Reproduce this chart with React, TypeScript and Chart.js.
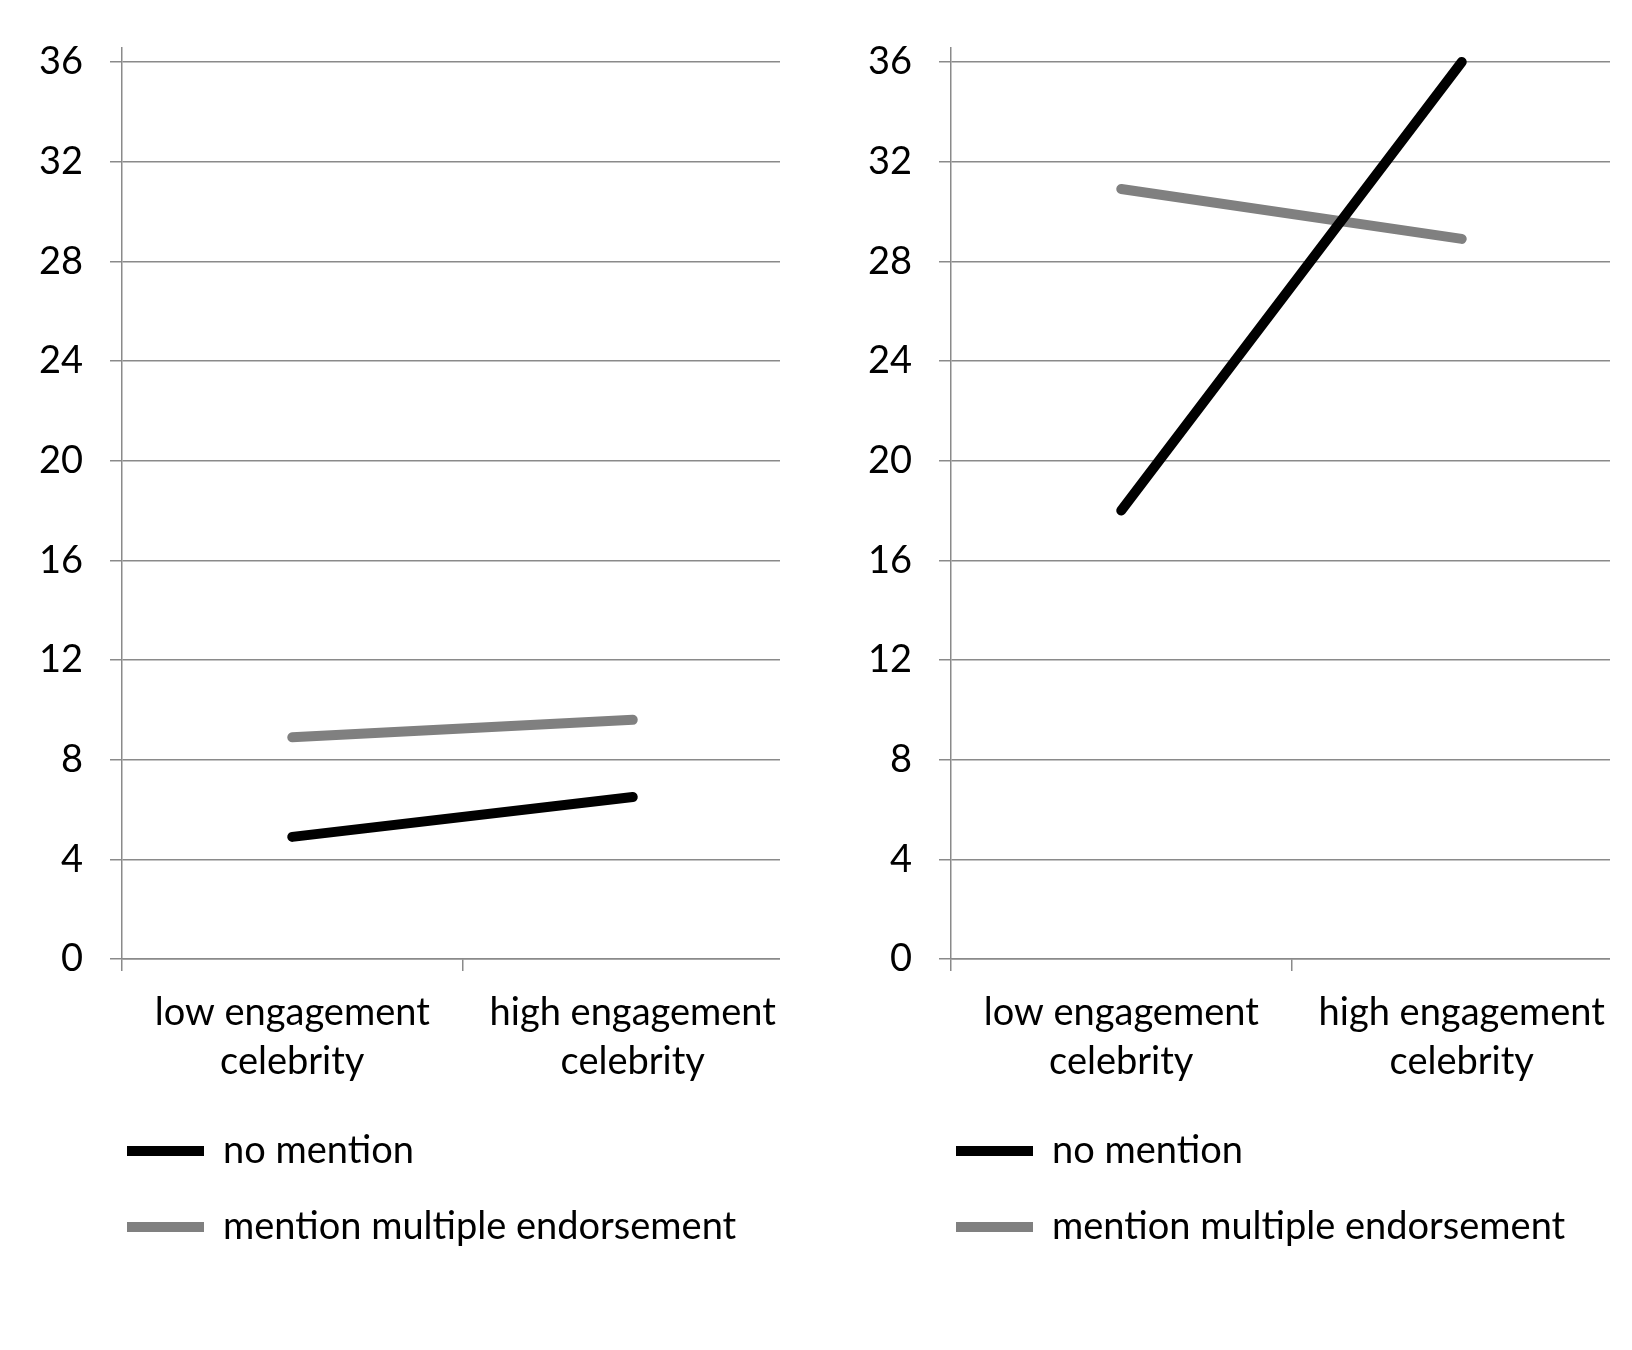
import React, { useEffect, useRef } from 'react';
import { Chart, registerables } from 'chart.js';

Chart.register(...registerables);

// ---- data ----
const categories: string[][] = [
  ['low engagement', 'celebrity'],
  ['high engagement', 'celebrity'],
];
const seriesNames = ['no mention', 'mention multiple endorsement'];
const seriesColors = ['#000000', '#808080'];
const leftNoMention = [4.9, 6.5];
const leftMultiple = [8.9, 9.6];
const rightNoMention = [18, 36];
const rightMultiple = [30.9, 28.9];
const yMin = 0;
const yMax = 36;
const yStep = 4;

// ---- layout ----
const FONT = 'Lato, "Open Sans", sans-serif';
const FONT_SIZE = 38;
const CANVAS_W = 803;
const CANVAS_H = 1350;
const GRID = '#8a8a8a';
const LEGEND_SHIFT = 89;

const legendShift = {
  id: 'legendShift',
  afterLayout(chart: any) {
    if (chart.legend) {
      chart.legend.left += LEGEND_SHIFT;
      chart.legend.right += LEGEND_SHIFT;
    }
  },
};

function Panel({ noMention, multiple }: { noMention: number[]; multiple: number[] }) {
  const ref = useRef<HTMLCanvasElement | null>(null);
  useEffect(() => {
    if (!ref.current) return;
    const mk = (i: number, data: number[]) => ({
      label: seriesNames[i],
      data,
      borderColor: seriesColors[i],
      backgroundColor: seriesColors[i],
      borderWidth: 10,
      borderCapStyle: 'round',
      pointRadius: 0,
      pointHoverRadius: 0,
      tension: 0,
      fill: false,
    });
    const chart = new Chart(ref.current, {
      type: 'line',
      data: {
        labels: categories,
        datasets: [mk(0, noMention), mk(1, multiple)],
      },
      plugins: [legendShift],
      options: {
        animation: false,
        responsive: false,
        devicePixelRatio: 1,
        layout: { padding: { left: 0, top: 48, right: 0, bottom: 94 } },
        plugins: {
          tooltip: { enabled: false },
          legend: {
            display: true,
            position: 'bottom',
            align: 'start',
            labels: {
              usePointStyle: true,
              pointStyle: 'line',
              pointStyleWidth: 77,
              padding: 38,
              color: '#000',
              font: { family: FONT, size: FONT_SIZE },
            },
          },
        },
        scales: {
          x: {
            type: 'category',
            offset: true,
            grid: {
              offset: true,
              drawOnChartArea: false,
              drawTicks: true,
              tickLength: 12,
              color: GRID,
              lineWidth: 1.5,
            },
            border: { display: true, color: GRID, width: 1.5 },
            ticks: {
              color: '#000',
              padding: 17,
              maxRotation: 0,
              autoSkip: false,
              font: { family: FONT, size: FONT_SIZE, lineHeight: 1.3 },
            },
            afterFit: (scale: any) => {
              scale.height = 135;
            },
          },
          y: {
            type: 'linear',
            min: yMin,
            max: yMax + 0.56,
            ticks: {
              stepSize: yStep,
              includeBounds: false,
              color: '#000',
              padding: 27,
              font: { family: FONT, size: FONT_SIZE, lineHeight: 1 },
            },
            grid: {
              drawTicks: true,
              tickLength: 12,
              color: GRID,
              lineWidth: 1.5,
            },
            border: { display: true, color: GRID, width: 1.5 },
            afterFit: (scale: any) => {
              scale.width = 122;
            },
          },
        },
      },
    } as any);
    return () => chart.destroy();
  }, [noMention, multiple]);
  return (
    <canvas
      ref={ref}
      width={CANVAS_W}
      height={CANVAS_H}
      style={{ width: CANVAS_W, height: CANVAS_H, display: 'block' }}
    />
  );
}

export default function App() {
  return (
    <div
      style={{
        position: 'absolute',
        left: 0,
        top: 0,
        width: 1632,
        height: 1350,
        background: '#fff',
        overflow: 'hidden',
      }}
    >
      <div style={{ position: 'absolute', left: 0, top: 0, width: 780, height: CANVAS_H, overflow: 'hidden' }}>
        <Panel noMention={leftNoMention} multiple={leftMultiple} />
      </div>
      <div style={{ position: 'absolute', left: 829, top: 0, width: 781, height: CANVAS_H, overflow: 'hidden' }}>
        <Panel noMention={rightNoMention} multiple={rightMultiple} />
      </div>
    </div>
  );
}
